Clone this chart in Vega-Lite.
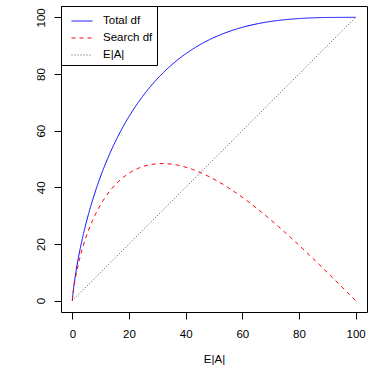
{
  "$schema": "https://vega.github.io/schema/vega-lite/v6.json",
  "width": 306,
  "height": 306,
  "autosize": {"type": "none"},
  "padding": {"left": 61, "top": 6, "right": 7, "bottom": 62},
  "background": "white",
  "config": {
    "font": "Liberation Sans",
    "view": {"stroke": "black", "strokeWidth": 1},
    "axis": {"grid": false, "domain": false, "tickColor": "black", "tickSize": 7, "labelColor": "black", "labelFontSize": 11.5, "titleFontSize": 11.5, "titleFontWeight": "normal", "titleColor": "black", "labelFont": "Liberation Sans", "titleFont": "Liberation Sans"},
    "legend": {"labelFont": "Liberation Sans"}
  },
  "data": {
    "values": [
      {"x": 0, "Total df": 0, "Search df": 0, "E|A|": 0},
      {"x": 0.05, "Total df": 0.66, "Search df": 0.61, "E|A|": 0.05},
      {"x": 0.27, "Total df": 2.93, "Search df": 2.66, "E|A|": 0.27},
      {"x": 0.51, "Total df": 4.95, "Search df": 4.44, "E|A|": 0.51},
      {"x": 0.69, "Total df": 6.32, "Search df": 5.63, "E|A|": 0.69},
      {"x": 0.93, "Total df": 7.99, "Search df": 7.06, "E|A|": 0.93},
      {"x": 1.24, "Total df": 10.01, "Search df": 8.77, "E|A|": 1.24},
      {"x": 1.64, "Total df": 12.39, "Search df": 10.75, "E|A|": 1.64},
      {"x": 2.14, "Total df": 15.17, "Search df": 13.03, "E|A|": 2.14},
      {"x": 2.78, "Total df": 18.39, "Search df": 15.61, "E|A|": 2.78},
      {"x": 3.57, "Total df": 22.04, "Search df": 18.47, "E|A|": 3.57},
      {"x": 4.55, "Total df": 26.15, "Search df": 21.6, "E|A|": 4.55},
      {"x": 5.74, "Total df": 30.68, "Search df": 24.94, "E|A|": 5.74},
      {"x": 7.19, "Total df": 35.61, "Search df": 28.42, "E|A|": 7.19},
      {"x": 8.91, "Total df": 40.89, "Search df": 31.98, "E|A|": 8.91},
      {"x": 10.96, "Total df": 46.45, "Search df": 35.49, "E|A|": 10.96},
      {"x": 13.36, "Total df": 52.22, "Search df": 38.86, "E|A|": 13.36},
      {"x": 16.15, "Total df": 58.07, "Search df": 41.92, "E|A|": 16.15},
      {"x": 19.36, "Total df": 63.92, "Search df": 44.56, "E|A|": 19.36},
      {"x": 23.01, "Total df": 69.62, "Search df": 46.61, "E|A|": 23.01},
      {"x": 27.13, "Total df": 75.06, "Search df": 47.93, "E|A|": 27.13},
      {"x": 31.73, "Total df": 80.12, "Search df": 48.39, "E|A|": 31.73},
      {"x": 36.81, "Total df": 84.71, "Search df": 47.9, "E|A|": 36.81},
      {"x": 42.37, "Total df": 88.72, "Search df": 46.35, "E|A|": 42.37},
      {"x": 48.39, "Total df": 92.11, "Search df": 43.72, "E|A|": 48.39},
      {"x": 54.85, "Total df": 94.84, "Search df": 39.99, "E|A|": 54.85},
      {"x": 61.71, "Total df": 96.92, "Search df": 35.21, "E|A|": 61.71},
      {"x": 65.27, "Total df": 97.72, "Search df": 32.45, "E|A|": 65.27},
      {"x": 68.92, "Total df": 98.38, "Search df": 29.46, "E|A|": 68.92},
      {"x": 72.63, "Total df": 98.9, "Search df": 26.27, "E|A|": 72.63},
      {"x": 76.42, "Total df": 99.3, "Search df": 22.88, "E|A|": 76.42},
      {"x": 80.26, "Total df": 99.59, "Search df": 19.33, "E|A|": 80.26},
      {"x": 84.15, "Total df": 99.79, "Search df": 15.64, "E|A|": 84.15},
      {"x": 88.08, "Total df": 99.91, "Search df": 11.83, "E|A|": 88.08},
      {"x": 92.03, "Total df": 99.97, "Search df": 7.94, "E|A|": 92.03},
      {"x": 96.01, "Total df": 99.99, "Search df": 3.98, "E|A|": 96.01},
      {"x": 100, "Total df": 100, "Search df": 0, "E|A|": 100}
    ]
  },
  "transform": [
    {"fold": ["Total df", "Search df", "E|A|"], "as": ["series", "value"]}
  ],
  "mark": {"type": "line", "strokeWidth": 1, "interpolate": "monotone", "clip": true},
  "encoding": {
    "x": {
      "field": "x", "type": "quantitative",
      "scale": {"domain": [-4, 104], "nice": false, "zero": false},
      "axis": {"values": [0, 20, 40, 60, 80, 100], "title": "E|A|", "labelPadding": 9, "titlePadding": 14}
    },
    "y": {
      "field": "value", "type": "quantitative",
      "scale": {"domain": [-4, 104], "nice": false, "zero": false},
      "axis": {"values": [0, 20, 40, 60, 80, 100], "title": null, "labelAngle": -90, "labelAlign": "center", "labelBaseline": "bottom", "labelPadding": 8}
    },
    "color": {
      "field": "series", "type": "nominal",
      "scale": {"domain": ["Total df", "Search df", "E|A|"], "range": ["#0000ff", "#ff0000", "#555555"]},
      "legend": {
        "title": null, "orient": "top-left", "offset": 0,
        "strokeColor": "black", "fillColor": "white", "padding": 4,
        "symbolType": "stroke", "symbolSize": 441, "symbolStrokeWidth": 1, "symbolOffset": 6,
        "labelFontSize": 11.5, "labelColor": "black", "labelOffset": 10, "rowPadding": -8
      }
    },
    "strokeDash": {
      "field": "series", "type": "nominal",
      "scale": {"domain": ["Total df", "Search df", "E|A|"], "range": [[1, 0], [4, 4], [1, 2]]},
      "legend": {
        "title": null, "orient": "top-left", "offset": 0,
        "strokeColor": "black", "fillColor": "white", "padding": 4,
        "symbolType": "stroke", "symbolSize": 441, "symbolStrokeWidth": 1, "symbolOffset": 6,
        "labelFontSize": 11.5, "labelColor": "black", "labelOffset": 10, "rowPadding": -8
      }
    }
  }
}
